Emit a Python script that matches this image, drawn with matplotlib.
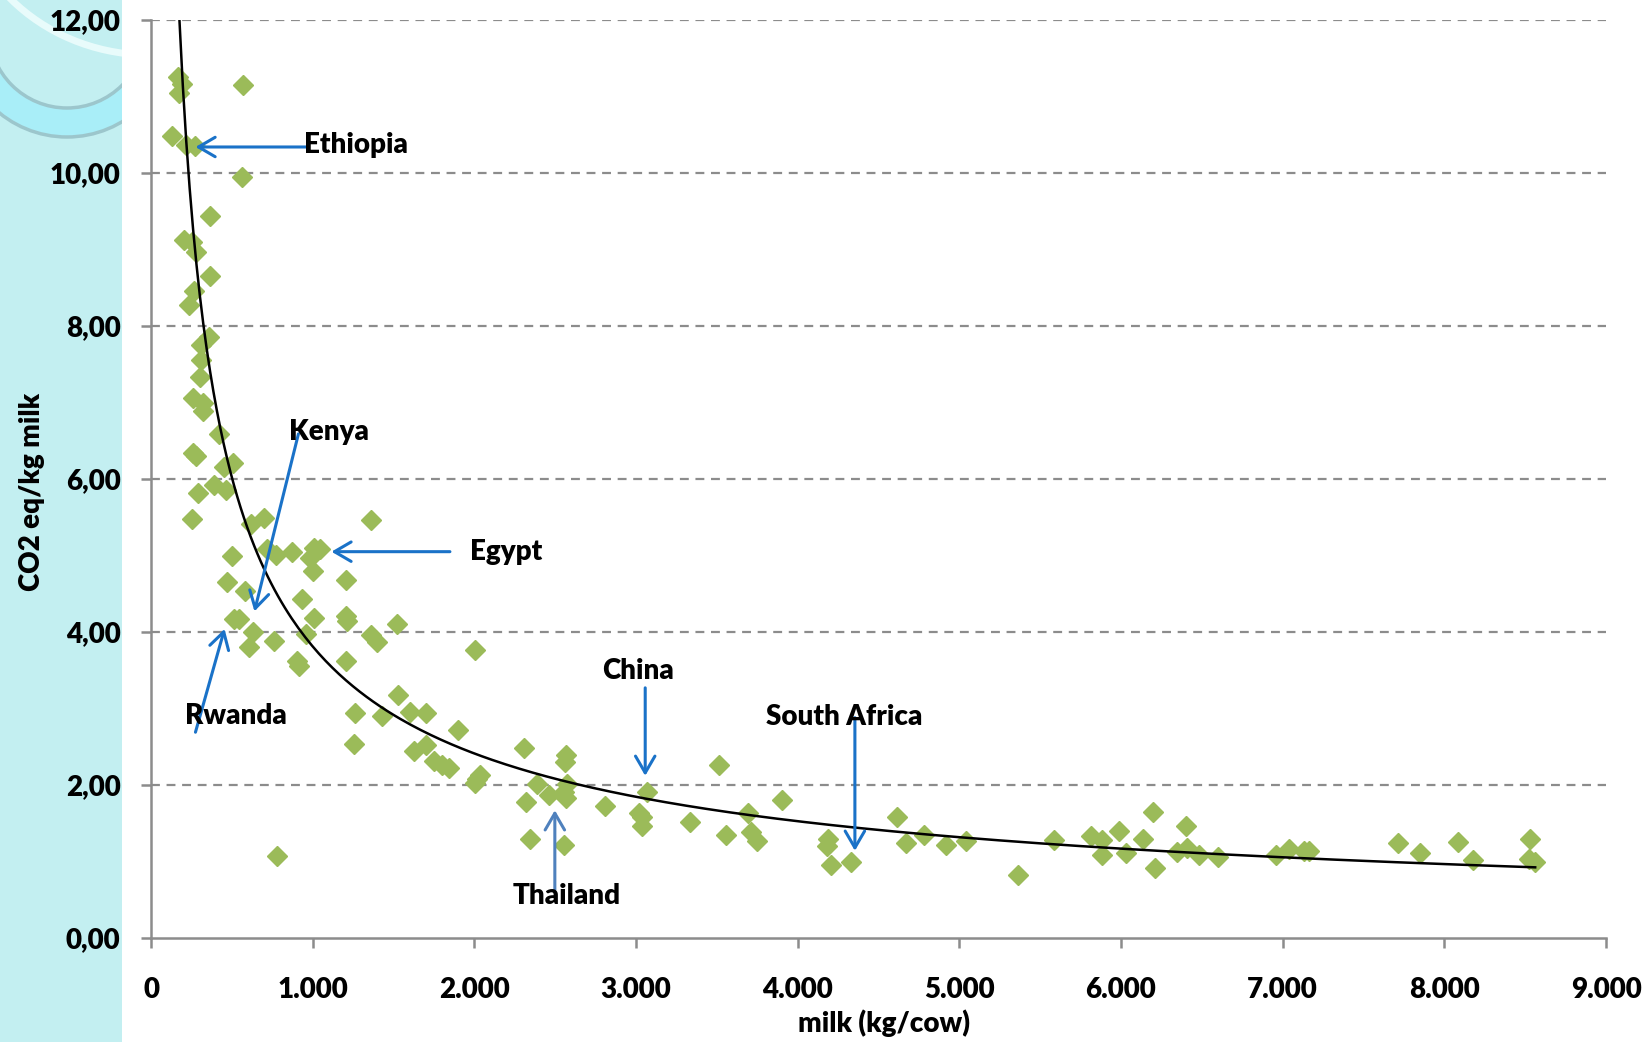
import matplotlib
matplotlib.use("Agg")
import matplotlib.pyplot as plt
import numpy as np
from matplotlib.patches import Rectangle, Arc, Wedge

# ---------------- data ----------------
milk = [169, 189, 176, 566, 130, 215, 273, 560, 365, 202, 254, 280, 365, 267, 234,
        358, 312, 312, 306, 260, 319, 319, 423, 260, 280, 508, 449, 293, 391, 462,
        254, 618, 697, 1361, 501, 716, 775, 872, 1009, 1048, 983, 1003, 469, 579,
        1204, 937, 514, 547, 1009, 1204, 1211, 1523, 631, 957, 1361, 1400, 605, 761,
        905, 918, 1204, 2005, 1530, 1263, 1426, 1602, 1699, 1901, 1628, 1699, 1257,
        1751, 1803, 1842, 2018, 2038, 2005, 2305, 2565, 2559, 2389, 2461, 2552, 2565,
        2572, 2318, 2344, 2552, 781, 2806, 3066, 3021, 3040, 3040, 3333, 3516, 3555,
        3691, 3711, 3750, 3900, 4180, 4186, 4206, 4329, 4616, 4668, 4779, 4915, 5039,
        5365, 5586, 5814, 5885, 5885, 5990, 6029, 6133, 6198, 6211, 6348, 6400, 6406,
        6484, 6602, 6960, 7038, 7129, 7161, 7715, 7852, 8086, 8177, 8529, 8522, 8561]
co2 = [11.26, 11.16, 11.05, 11.15, 10.49, 10.36, 10.35, 9.95, 9.44, 9.12, 9.10, 8.97,
       8.66, 8.46, 8.27, 7.86, 7.75, 7.55, 7.33, 7.06, 7.00, 6.89, 6.59, 6.34, 6.30,
       6.21, 6.16, 5.82, 5.92, 5.85, 5.48, 5.41, 5.49, 5.46, 5.00, 5.08, 5.01, 5.05,
       5.10, 5.08, 4.97, 4.80, 4.65, 4.54, 4.68, 4.43, 4.17, 4.17, 4.18, 4.21, 4.14,
       4.10, 4.00, 3.98, 3.96, 3.87, 3.80, 3.88, 3.62, 3.56, 3.62, 3.77, 3.18, 2.94,
       2.90, 2.96, 2.94, 2.72, 2.45, 2.52, 2.53, 2.31, 2.26, 2.22, 2.08, 2.13, 2.02,
       2.48, 2.39, 2.30, 2.01, 1.87, 1.91, 1.83, 2.01, 1.78, 1.29, 1.22, 1.07, 1.72,
       1.91, 1.64, 1.58, 1.46, 1.51, 2.26, 1.35, 1.64, 1.39, 1.27, 1.80, 1.20, 1.29,
       0.95, 0.99, 1.58, 1.24, 1.35, 1.21, 1.27, 0.83, 1.28, 1.33, 1.28, 1.09, 1.40,
       1.11, 1.29, 1.65, 0.92, 1.13, 1.47, 1.17, 1.09, 1.06, 1.09, 1.16, 1.14, 1.14,
       1.24, 1.11, 1.25, 1.02, 1.29, 1.03, 1.00]

# power trendline y = a * x^b
trend_a = 364.0
trend_b = -0.66
trend_range = [176, 8562]

x_ticks = [0, 1000, 2000, 3000, 4000, 5000, 6000, 7000, 8000, 9000]
x_ticklabels = ["0", "1.000", "2.000", "3.000", "4.000", "5.000", "6.000", "7.000", "8.000", "9.000"]
y_ticks = [0, 2, 4, 6, 8, 10, 12]
y_ticklabels = ["0,00", "2,00", "4,00", "6,00", "8,00", "10,00", "12,00"]

# annotations: label, text position, text alignment, arrow tail, arrow tip, colour
countries = ["Ethiopia", "Kenya", "Egypt", "Rwanda", "China", "South Africa", "Thailand"]
text_pos = [(949, 10.37), (856, 6.62), (1976, 5.05), (212, 2.90), (3013, 3.49), (4286, 2.89), (2570, 0.55)]
text_ha = ["left", "left", "left", "left", "center", "center", "center"]
arrow_tail = [(962, 10.34), (912, 6.59), (1849, 5.05), (275, 2.69), (3057, 3.27), (4354, 2.88), (2498, 0.63)]
arrow_tip = [(275, 10.34), (640, 4.27), (1116, 5.05), (455, 4.04), (3057, 2.12), (4354, 1.14), (2498, 1.67)]
arrow_color = ["#1a72c8", "#1a72c8", "#1a72c8", "#1a72c8", "#1a72c8", "#1a72c8", "#4f81bd"]

# ---------------- figure ----------------
W, H = 1650, 1042
fig = plt.figure(figsize=(W / 100, H / 100), dpi=100)
fig.patch.set_facecolor("white")

FONT = "Lato"
WEIGHT = "heavy"
FS = 20

# left decorative strip
strip_w = 122
fig.patches.append(Rectangle((0, 0), strip_w / W, 1, transform=fig.transFigure,
                             facecolor="#c3eff1", edgecolor="none", zorder=0))
deco = fig.add_axes([0, 0, strip_w / W, 1], zorder=0.5)
deco.set_xlim(0, strip_w)
deco.set_ylim(H, 0)
deco.axis("off")
deco.add_patch(Wedge((67, 30), 107, 0, 180, width=29, facecolor="#a9eef8", edgecolor="none"))
deco.add_patch(Arc((67, 30), 2 * 78, 2 * 78, theta1=0, theta2=180, color="#9cc6cc", lw=2.5))
deco.add_patch(Arc((67, 30), 2 * 107, 2 * 107, theta1=0, theta2=180, color="#9cc6cc", lw=2.5))
deco.add_patch(Arc((150, -120), 2 * 190, 2 * 175, theta1=95, theta2=185, color="#e8fbfb", lw=5))

ax = fig.add_axes([151 / W, 1 - 938 / H, (1606 - 151) / W, (938 - 20) / H], zorder=1)
ax.set_xlim(0, 9000)
ax.set_ylim(0, 12)

for y in y_ticks[1:]:
    ax.axhline(y, color="#8c8c8c", lw=1.6, ls=(0, (4, 3)), zorder=1)

ax.plot(milk, co2, ls="none", marker="D", ms=10, color="#9bbb59", mec="#9bbb59", zorder=3)

xt = np.linspace(trend_range[0], trend_range[1], 400)
ax.plot(xt, trend_a * xt ** trend_b, color="black", lw=1.8, zorder=4)

for lab, tp, ha, tail, tip, c in zip(countries, text_pos, text_ha, arrow_tail, arrow_tip, arrow_color):
    ax.annotate("", xy=tip, xytext=tail,
                arrowprops=dict(arrowstyle="->,head_length=0.6,head_width=0.35",
                                color=c, lw=2.2, mutation_scale=20, shrinkA=0, shrinkB=0),
                zorder=5)
    ax.text(tp[0], tp[1], lab, ha=ha, va="center", fontsize=FS, fontweight=WEIGHT,
            family=FONT, color="black", zorder=6)

for s in ["top", "right"]:
    ax.spines[s].set_visible(False)
for s in ["left", "bottom"]:
    ax.spines[s].set_color("#8c8c8c")
    ax.spines[s].set_linewidth(1.8)

ax.set_xticks(x_ticks)
ax.set_xticklabels(x_ticklabels)
ax.set_yticks(y_ticks)
ax.set_yticklabels(y_ticklabels)
ax.tick_params(axis="x", direction="out", length=7, width=1.8, color="#8c8c8c", pad=21)
ax.tick_params(axis="y", direction="out", length=7, width=1.8, color="#8c8c8c", pad=15)
for t in ax.get_xticklabels() + ax.get_yticklabels():
    t.set_fontfamily(FONT)
    t.set_fontweight(WEIGHT)
    t.set_fontsize(FS)

fig.text(32 / W, 1 - 492 / H, "CO2 eq/kg milk", rotation=90, ha="center", va="center",
         fontsize=FS, fontweight=WEIGHT, family=FONT)
fig.text(884 / W, 1 - 1023 / H, "milk (kg/cow)", ha="center", va="center",
         fontsize=FS, fontweight=WEIGHT, family=FONT)

fig.savefig("out.png", dpi=100)
